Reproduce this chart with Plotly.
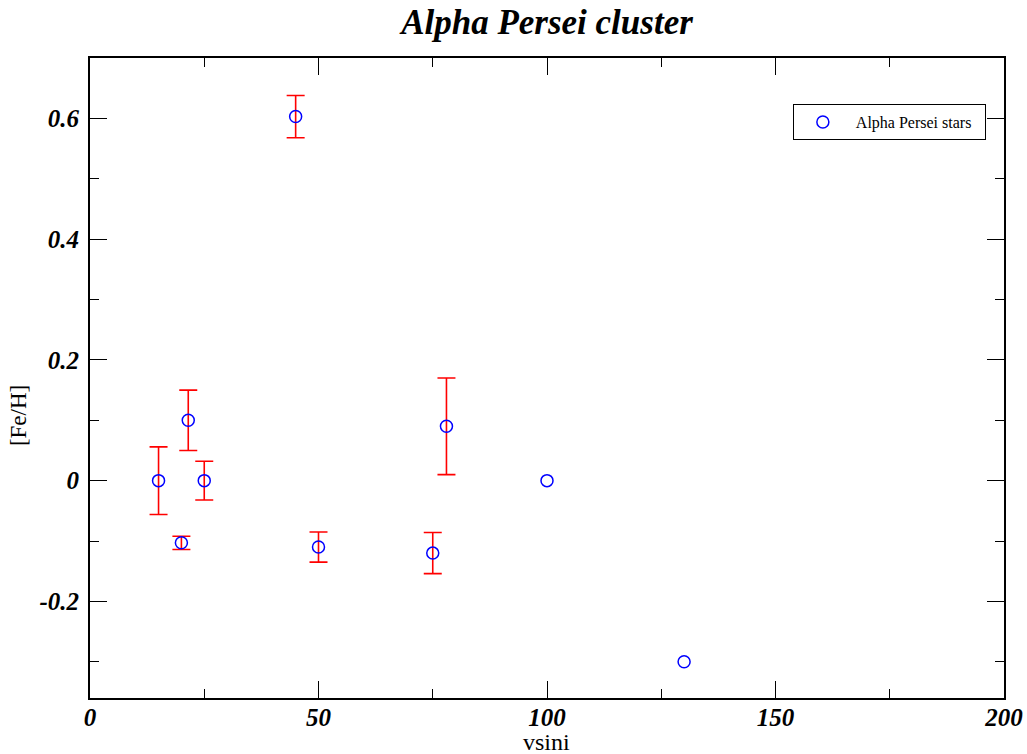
import plotly.graph_objects as go

vsini = [15, 20, 21.5, 25, 45, 50, 75, 78, 100, 130]
feh = [0.0, -0.103, 0.1, 0.0, 0.603, -0.11, -0.12, 0.09, 0.0, -0.3]
feh_err = [0.056, 0.011, 0.05, 0.032, 0.035, 0.025, 0.034, 0.08, None, None]

x_tickvals = [0, 50, 100, 150, 200]
x_ticktext = ["0", "50", "100", "150", "200"]
y_tickvals = [-0.2, 0, 0.2, 0.4, 0.6]
y_ticktext = ["-0.2", "0", "0.2", "0.4", "0.6"]

ex = [v for v, e in zip(vsini, feh_err) if e is not None]
ey = [f for f, e in zip(feh, feh_err) if e is not None]
ee = [e for e in feh_err if e is not None]

fig = go.Figure()
fig.add_trace(go.Scatter(
    x=ex, y=ey, mode="markers", showlegend=False, hoverinfo="skip",
    marker=dict(size=1, color="rgba(0,0,0,0)"),
    error_y=dict(type="data", array=ee, visible=True, color="red", thickness=1.6, width=9),
))
fig.add_trace(go.Scatter(
    x=vsini, y=feh, mode="markers", name="\u00a0Alpha Persei stars\u00a0\u00a0",
    marker=dict(symbol="circle-open", size=12, color="blue", line=dict(width=1.5, color="blue")),
))

serif = "Liberation Serif, Times New Roman, serif"
axis_common = dict(
    showgrid=False, zeroline=False, showline=True, linecolor="black", linewidth=2,
    mirror="ticks", ticks="inside", ticklen=17, tickwidth=1.2, tickcolor="black",
    automargin=False,
    tickfont=dict(family=serif, size=25, color="black", weight="bold", style="italic"),
)
fig.update_xaxes(
    range=[0, 200], tickvals=x_tickvals, ticktext=x_ticktext, ticklabelstandoff=-4,
    minor=dict(ticks="inside", ticklen=9, dtick=25, tick0=0, tickcolor="black", tickwidth=1.2),
    **axis_common,
)
fig.update_yaxes(
    range=[-0.36, 0.7], tickvals=y_tickvals, ticktext=y_ticktext, ticklabelstandoff=4,
    minor=dict(ticks="inside", ticklen=9, dtick=0.1, tick0=0, tickcolor="black", tickwidth=1.2),
    **axis_common,
)
fig.add_annotation(text="vsini", xref="paper", yref="paper", x=0.499, y=-0.0695,
                   xanchor="center", yanchor="middle", showarrow=False,
                   font=dict(family=serif, size=24, color="black"))
fig.add_annotation(text="[Fe/H]", xref="paper", yref="paper", x=-0.0788, y=0.442,
                   xanchor="center", yanchor="middle", showarrow=False, textangle=-90,
                   font=dict(family=serif, size=23, color="black"))
fig.update_layout(
    width=1027, height=754,
    margin=dict(l=90, r=23, t=58, b=56),
    paper_bgcolor="white", plot_bgcolor="white",
    title=dict(text="Alpha Persei cluster", x=0.5326, xanchor="center", y=0.971, yanchor="middle",
               font=dict(family=serif, size=35, color="black", weight="bold", style="italic")),
    legend=dict(x=0.769, y=0.928, xanchor="left", yanchor="top", bgcolor="white",
                bordercolor="black", borderwidth=1, itemwidth=48,
                font=dict(family=serif, size=16, color="black")),
)
fig.write_html("out.html", config={"displayModeBar": False},
               post_script="document.body.style.margin='0';document.body.style.overflow='hidden';")
